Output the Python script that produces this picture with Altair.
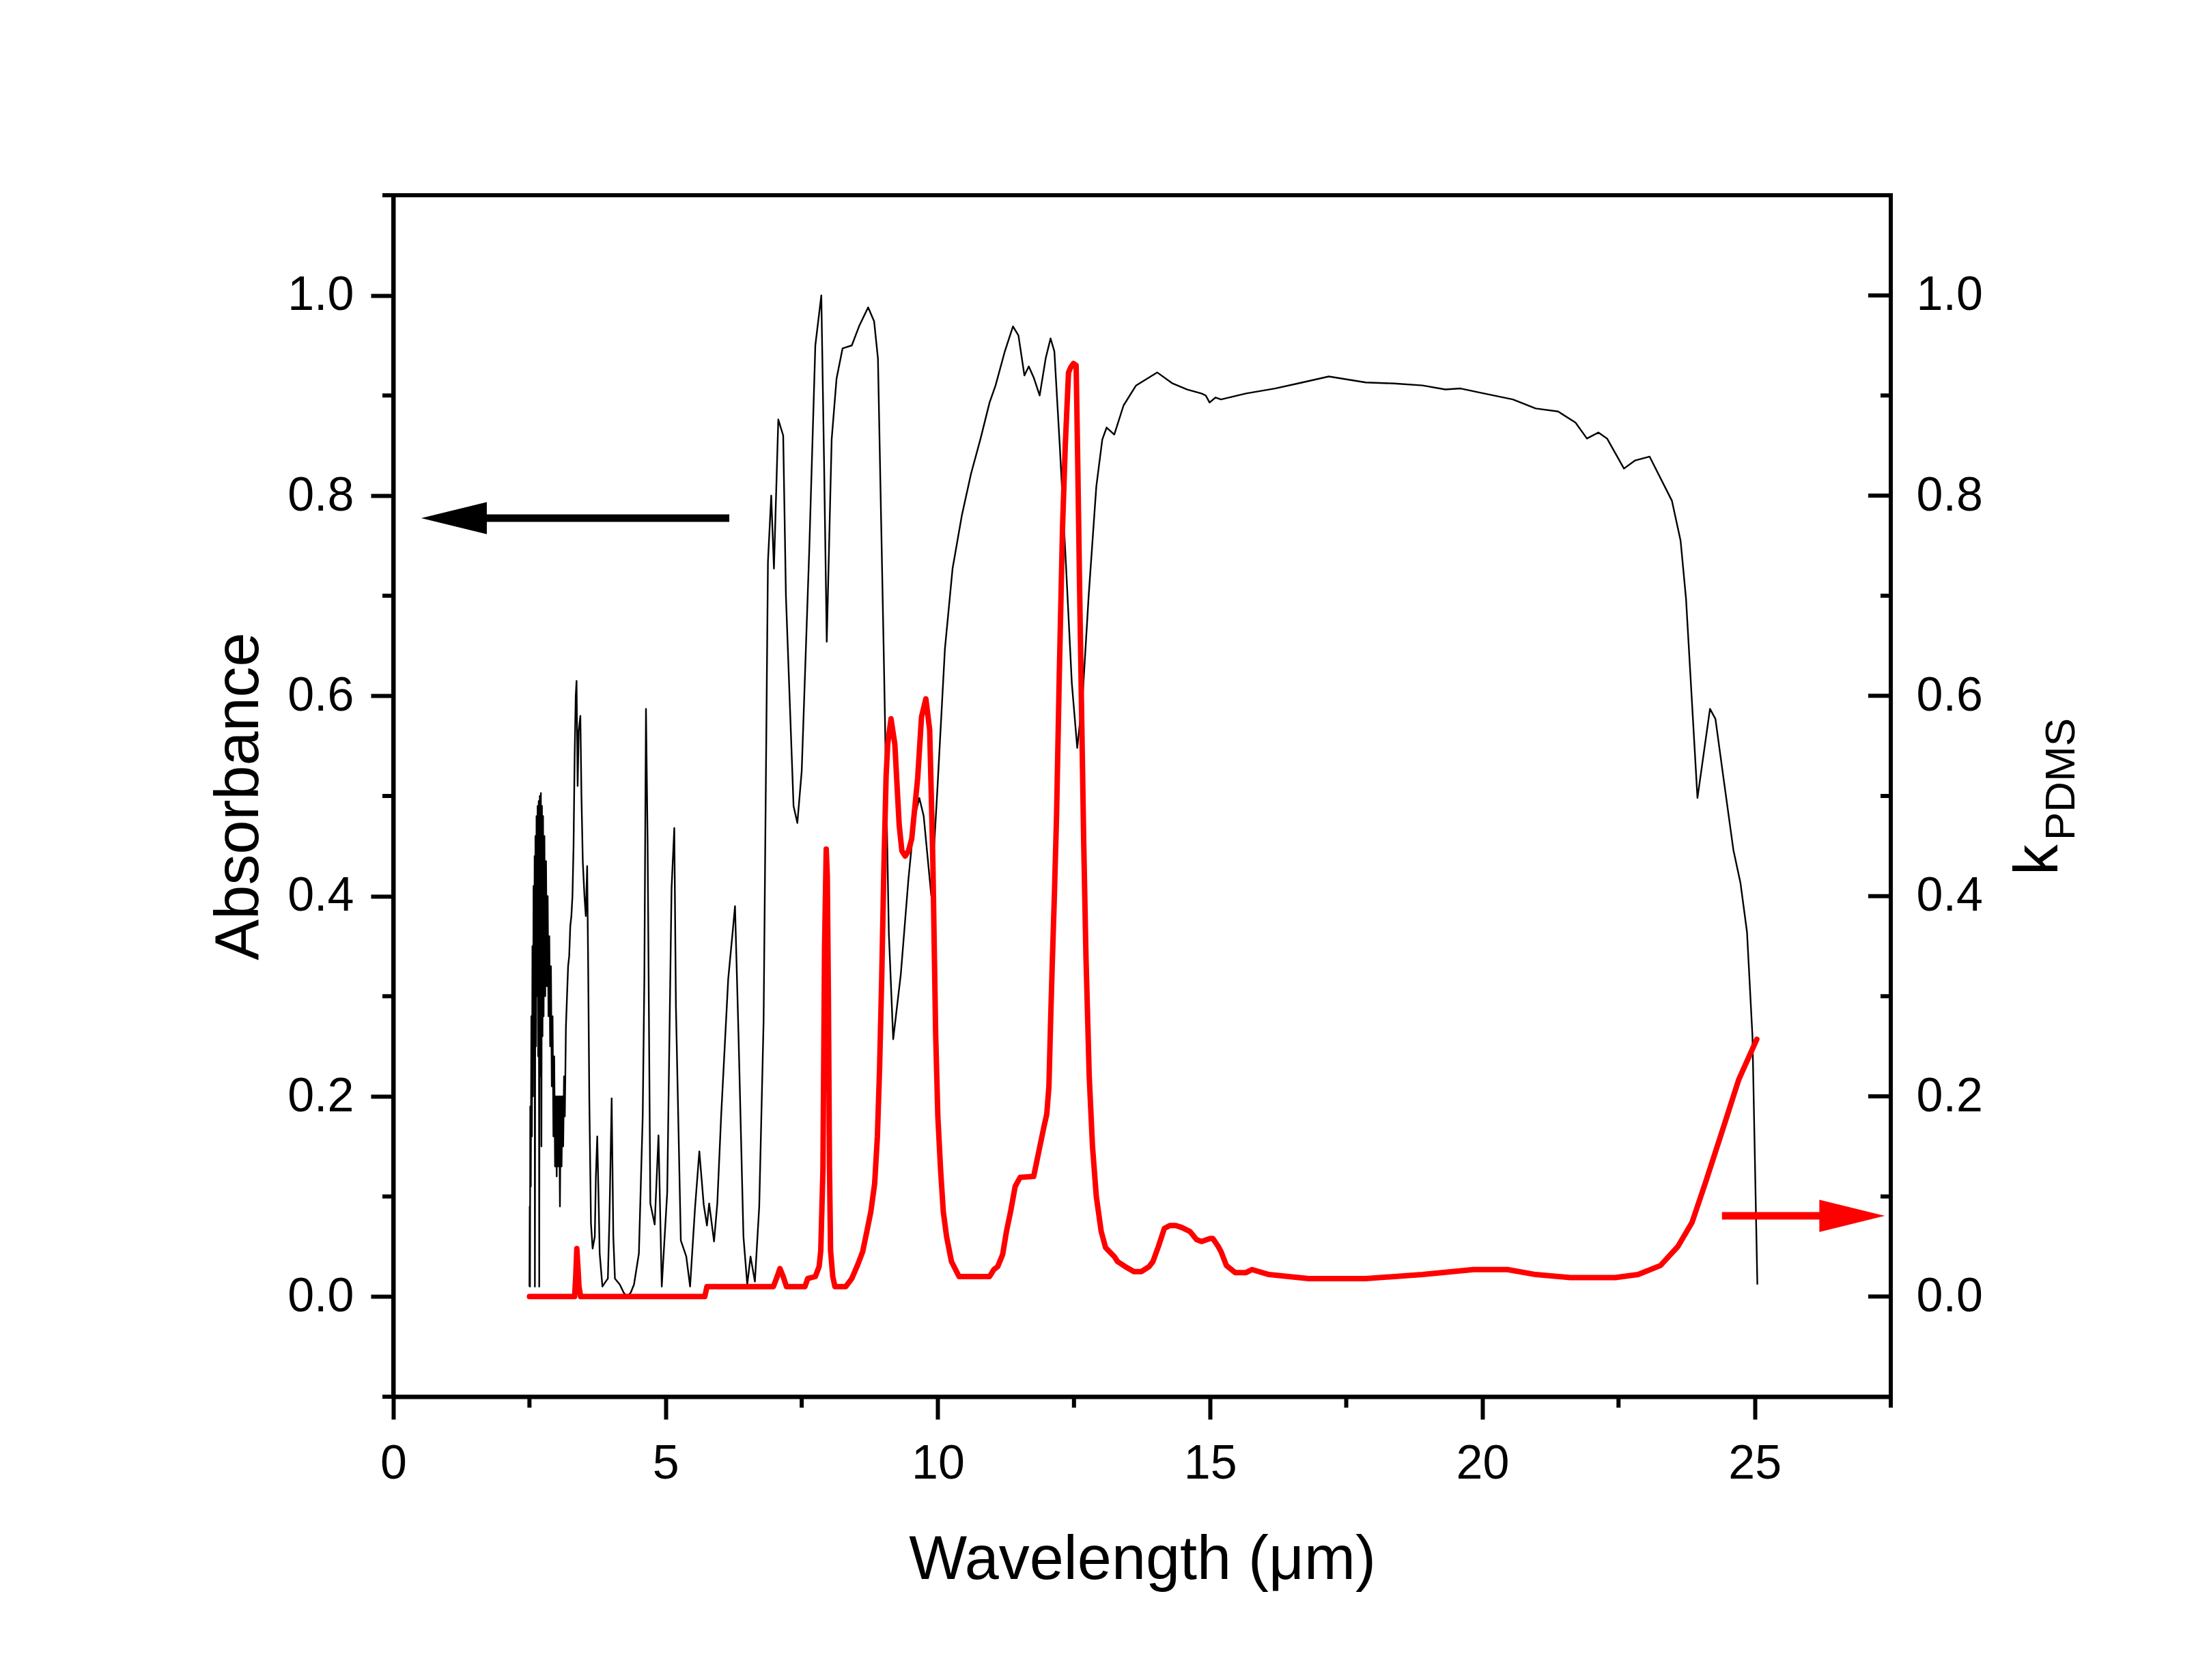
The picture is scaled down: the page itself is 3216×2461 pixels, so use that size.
import altair as alt
import pandas as pd

# ---------------- data ----------------
abs_x = [2.500, 2.505, 2.510, 2.515, 2.525, 2.535, 2.545, 2.555, 2.565, 2.575,
         2.585, 2.595, 2.600, 2.610, 2.620, 2.630, 2.640, 2.650, 2.660, 2.670,
         2.680, 2.690, 2.700, 2.710, 2.720, 2.730, 2.740, 2.750, 2.760, 2.775,
         2.790, 2.805, 2.820, 2.835, 2.850, 2.865, 2.880, 2.895, 2.910, 2.925,
         2.940, 2.955, 2.970, 2.985, 3.000, 3.015, 3.030, 3.045, 3.060, 3.075,
         3.090, 3.105, 3.120, 3.135, 3.150, 3.170, 3.190, 3.210, 3.230, 3.250,
         3.270, 3.290, 3.310, 3.330, 3.350, 3.365, 3.385, 3.405, 3.435, 3.455,
         3.480, 3.510, 3.535, 3.560, 3.580, 3.600, 3.630, 3.660, 3.700, 3.720,
         3.745, 3.765, 3.790, 3.840, 3.900, 3.940, 3.970, 4.010, 4.040, 4.070,
         4.160, 4.230, 4.290, 4.360, 4.420, 4.510, 4.580, 4.610, 4.640, 4.670,
         4.720, 4.800, 4.870, 4.930, 5.030, 5.110, 5.160, 5.190, 5.280, 5.380,
         5.450, 5.540, 5.620, 5.700, 5.760, 5.800, 5.890, 5.950, 6.020, 6.150,
         6.230, 6.275, 6.340, 6.430, 6.500, 6.560, 6.640, 6.720, 6.800, 6.880,
         6.940, 6.990, 7.070, 7.160, 7.210, 7.350, 7.420, 7.500, 7.640, 7.750,
         7.860, 7.910, 7.960, 8.050, 8.140, 8.250, 8.420, 8.560, 8.720, 8.830,
         8.900, 9.010, 9.100, 9.180, 9.320, 9.460, 9.570, 9.660, 9.740, 9.880,
         9.990, 10.130, 10.270, 10.440, 10.610, 10.780, 10.950, 11.060, 11.230, 11.380,
         11.480, 11.590, 11.670, 11.760, 11.870, 11.980, 12.070, 12.140, 12.240, 12.350,
         12.460, 12.560, 12.660, 12.770, 12.910, 13.020, 13.100, 13.240, 13.410, 13.640,
         14.030, 14.310, 14.580, 14.840, 14.920, 14.990, 15.100, 15.200, 15.660, 16.190,
         16.610, 17.180, 17.860, 18.380, 18.900, 19.320, 19.600, 19.940, 20.560, 20.980,
         21.390, 21.710, 21.920, 22.130, 22.290, 22.600, 22.800, 23.070, 23.480, 23.640,
         23.740, 23.950, 24.180, 24.280, 24.420, 24.610, 24.740, 24.860, 24.960, 25.050]
abs_y = [0.010, 0.090, 0.010, 0.190, 0.110, 0.280, 0.160, 0.350, 0.200, 0.410,
         0.240, 0.440, 0.010, 0.460, 0.250, 0.480, 0.300, 0.490, 0.240, 0.495,
         0.010, 0.500, 0.220, 0.503, 0.150, 0.490, 0.260, 0.480, 0.280, 0.460,
         0.300, 0.435, 0.310, 0.400, 0.280, 0.360, 0.250, 0.330, 0.210, 0.280,
         0.160, 0.240, 0.130, 0.200, 0.120, 0.200, 0.130, 0.200, 0.090, 0.200,
         0.130, 0.200, 0.150, 0.220, 0.180, 0.270, 0.300, 0.330, 0.340, 0.370,
         0.380, 0.400, 0.450, 0.540, 0.600, 0.615, 0.510, 0.565, 0.580, 0.500,
         0.434, 0.400, 0.380, 0.430, 0.320, 0.195, 0.073, 0.048, 0.060, 0.120,
         0.160, 0.110, 0.043, 0.010, 0.015, 0.018, 0.080, 0.198, 0.060, 0.018,
         0.012, 0.004, 0.000, 0.004, 0.012, 0.043, 0.180, 0.317, 0.587, 0.454,
         0.093, 0.072, 0.161, 0.010, 0.104, 0.408, 0.468, 0.290, 0.056, 0.040,
         0.010, 0.088, 0.145, 0.092, 0.071, 0.093, 0.055, 0.093, 0.180, 0.317,
         0.363, 0.390, 0.260, 0.060, 0.012, 0.040, 0.015, 0.090, 0.275, 0.734,
         0.800, 0.727, 0.876, 0.860, 0.700, 0.490, 0.473, 0.525, 0.748, 0.950,
         1.000, 0.835, 0.654, 0.856, 0.917, 0.947, 0.950, 0.970, 0.988, 0.974,
         0.937, 0.633, 0.363, 0.257, 0.322, 0.417, 0.478, 0.498, 0.480, 0.400,
         0.505, 0.647, 0.727, 0.780, 0.822, 0.856, 0.893, 0.910, 0.944, 0.969,
         0.960, 0.920, 0.929, 0.918, 0.900, 0.937, 0.957, 0.944, 0.849, 0.734,
         0.613, 0.548, 0.600, 0.700, 0.809, 0.856, 0.868, 0.861, 0.890, 0.910,
         0.923, 0.912, 0.906, 0.902, 0.900, 0.893, 0.898, 0.896, 0.902, 0.907,
         0.912, 0.919, 0.913, 0.912, 0.910, 0.906, 0.907, 0.903, 0.896, 0.887,
         0.884, 0.873, 0.857, 0.863, 0.857, 0.827, 0.835, 0.839, 0.795, 0.755,
         0.697, 0.498, 0.587, 0.577, 0.521, 0.446, 0.413, 0.364, 0.260, 0.012]

k_x = [2.50, 3.33, 3.35, 3.37, 3.39, 3.41, 3.44, 5.72, 5.76, 6.98,
       7.05, 7.10, 7.16, 7.22, 7.56, 7.61, 7.75, 7.82, 7.85, 7.89,
       7.92, 7.95, 7.97, 7.99, 8.01, 8.03, 8.07, 8.11, 8.31, 8.42,
       8.53, 8.62, 8.70, 8.77, 8.84, 8.89, 8.93, 8.97, 9.01, 9.05,
       9.08, 9.14, 9.21, 9.29, 9.34, 9.40, 9.46, 9.52, 9.58, 9.63,
       9.70, 9.78, 9.85, 9.88, 9.91, 9.96, 10.00, 10.05, 10.10, 10.16,
       10.25, 10.39, 10.95, 11.03, 11.10, 11.19, 11.26, 11.34, 11.42, 11.51,
       11.76, 11.87, 11.95, 12.00, 12.04, 12.07, 12.10, 12.14, 12.18, 12.23,
       12.29, 12.34, 12.40, 12.44, 12.49, 12.54, 12.57, 12.60, 12.65, 12.68,
       12.72, 12.78, 12.84, 12.91, 13.00, 13.08, 13.24, 13.30, 13.47, 13.60,
       13.74, 13.88, 13.95, 14.05, 14.16, 14.26, 14.37, 14.48, 14.63, 14.75,
       14.84, 15.00, 15.05, 15.15, 15.20, 15.30, 15.46, 15.66, 15.77, 16.08,
       16.81, 17.86, 18.90, 19.84, 20.46, 20.98, 21.61, 22.44, 22.86, 23.27,
       23.59, 23.85, 24.11, 24.42, 24.71, 25.04]
k_y = [0.000, 0.000, 0.020, 0.048, 0.030, 0.010, 0.000, 0.000, 0.010, 0.010,
       0.020, 0.028, 0.020, 0.010, 0.010, 0.018, 0.020, 0.030, 0.046, 0.127,
       0.350, 0.447, 0.420, 0.300, 0.130, 0.046, 0.020, 0.010, 0.010, 0.018,
       0.032, 0.045, 0.066, 0.085, 0.113, 0.160, 0.228, 0.320, 0.430, 0.520,
       0.552, 0.577, 0.552, 0.471, 0.445, 0.440, 0.445, 0.457, 0.490, 0.518,
       0.579, 0.597, 0.566, 0.500, 0.430, 0.262, 0.180, 0.127, 0.085, 0.060,
       0.035, 0.020, 0.020, 0.027, 0.030, 0.042, 0.065, 0.086, 0.110, 0.119,
       0.120, 0.149, 0.170, 0.182, 0.210, 0.273, 0.330, 0.400, 0.480, 0.620,
       0.768, 0.850, 0.923, 0.928, 0.932, 0.930, 0.830, 0.720, 0.550, 0.450,
       0.340, 0.220, 0.150, 0.100, 0.065, 0.049, 0.040, 0.035, 0.029, 0.025,
       0.025, 0.030, 0.035, 0.050, 0.068, 0.071, 0.071, 0.069, 0.065, 0.057,
       0.055, 0.058, 0.058, 0.050, 0.045, 0.031, 0.024, 0.024, 0.027, 0.022,
       0.018, 0.018, 0.022, 0.027, 0.027, 0.022, 0.019, 0.019, 0.022, 0.031,
       0.050, 0.074, 0.116, 0.168, 0.217, 0.257]

x_major = [0, 5, 10, 15, 20, 25]
x_minor = [2.5, 7.5, 12.5, 17.5, 22.5, 27.5]
y_major = [0.0, 0.2, 0.4, 0.6, 0.8, 1.0]
y_minor = [-0.1, 0.1, 0.3, 0.5, 0.7, 0.9, 1.1]

# arrows: shaft start, shaft end, head centre, level
arrow_black = {"x0": [1.60], "x1": [6.17], "head": [1.115], "y": [0.7775]}
arrow_red = {"x0": [24.40], "x1": [26.30], "head": [26.79], "y": [0.0806]}

x_title = "Wavelength (μm)"
y_title = "Absorbance"
r_title_main = ["k"]
r_title_sub = ["PDMS"]

# ---------------- chart ----------------
W, H = 2193, 1760
FONT = "Liberation Sans"
xs = alt.Scale(domain=[0, 27.5], nice=False, zero=False)
ys = alt.Scale(domain=[-0.1, 1.1], nice=False, zero=False)

# one identical x axis definition shared by every layer (they share the x scale)
x_axis = alt.Axis(values=x_major, format="d", title=x_title, orient="bottom",
                  tickSize=33, labelPadding=31, titlePadding=62)

df_abs = pd.DataFrame({"wl": abs_x, "v": abs_y})
df_k = pd.DataFrame({"wl": k_x, "v": k_y})

black = alt.Chart(df_abs).mark_line(color="black", strokeWidth=2.4, strokeJoin="round").encode(
    x=alt.X("wl:Q", scale=xs, axis=x_axis),
    y=alt.Y("v:Q", scale=ys, axis=alt.Axis(
        values=y_major, format=".1f", title=y_title, orient="left",
        tickSize=33, labelPadding=25, titlePadding=24)),
)

red = alt.Chart(df_k).mark_line(color="#ff0000", strokeWidth=8, strokeJoin="round", strokeCap="round").encode(
    x=alt.X("wl:Q", scale=xs, axis=x_axis),
    y=alt.Y("v:Q", scale=ys, axis=alt.Axis(
        values=y_major, format=".1f", title=None, orient="right",
        ticks=False, tickSize=0, domain=False, labelPadding=37)),
)

left_minor = alt.Chart(pd.DataFrame({"t": y_minor})).mark_rule(color="black", strokeWidth=6).encode(
    y=alt.Y("t:Q", scale=ys, axis=None), x=alt.value(-16), x2=alt.value(0))

bottom_minor = alt.Chart(pd.DataFrame({"wl": x_minor})).mark_rule(color="black", strokeWidth=6).encode(
    x=alt.X("wl:Q", scale=xs, axis=x_axis), y=alt.value(H), y2=alt.value(H + 16))

right_major = alt.Chart(pd.DataFrame({"t": y_major})).mark_rule(color="black", strokeWidth=6).encode(
    y=alt.Y("t:Q", scale=ys, axis=None), x=alt.value(W - 33), x2=alt.value(W))

right_minor = alt.Chart(pd.DataFrame({"t": y_minor[1:-1]})).mark_rule(color="black", strokeWidth=6).encode(
    y=alt.Y("t:Q", scale=ys, axis=None), x=alt.value(W - 15), x2=alt.value(W))

def shaft(d, color):
    return alt.Chart(pd.DataFrame(d)).mark_rule(color=color, strokeWidth=11).encode(
        x=alt.X("x0:Q", scale=xs, axis=x_axis), x2="x1:Q",
        y=alt.Y("y:Q", scale=ys, axis=None))

def head(d, color, path):
    return alt.Chart(pd.DataFrame(d)).mark_point(
        shape=path, filled=True, size=9216, color=color, opacity=1, strokeWidth=0).encode(
        x=alt.X("head:Q", scale=xs, axis=x_axis),
        y=alt.Y("y:Q", scale=ys, axis=None))

shaft_b = shaft(arrow_black, "black")
head_b = head(arrow_black, "black", "M-1,0L1,-0.49L1,0.49Z")
shaft_r = shaft(arrow_red, "#ff0000")
head_r = head(arrow_red, "#ff0000", "M1,0L-1,-0.49L-1,0.49Z")

t_main = alt.Chart(pd.DataFrame({"s": r_title_main})).mark_text(
    angle=270, align="left", baseline="alphabetic", fontSize=90, font=FONT, color="black").encode(
    text="s:N", x=alt.value(2437), y=alt.value(996))
t_sub = alt.Chart(pd.DataFrame({"s": r_title_sub})).mark_text(
    angle=270, align="left", baseline="alphabetic", fontSize=62, font=FONT, color="black").encode(
    text="s:N", x=alt.value(2462), y=alt.value(945))

chart = alt.layer(
    black, red, left_minor, bottom_minor, right_major, right_minor,
    shaft_b, head_b, shaft_r, head_r, t_main, t_sub
).resolve_scale(y="independent").properties(
    width=W, height=H,
    autosize=alt.AutoSizeParams(type="none"),
    padding={"left": 568, "top": 278, "right": 400, "bottom": 380},
    background="white",
).configure_view(
    stroke="black", strokeWidth=6
).configure_axis(
    grid=False, domainColor="black", domainWidth=6, tickColor="black", tickWidth=6,
    labelFont=FONT, labelFontSize=70, labelColor="black",
    titleFont=FONT, titleFontSize=90, titleFontWeight="normal", titleColor="black",
    labelFlush=False, labelOverlap=False,
)

chart.save("out.html", embed_options={"renderer": "svg", "actions": False})
